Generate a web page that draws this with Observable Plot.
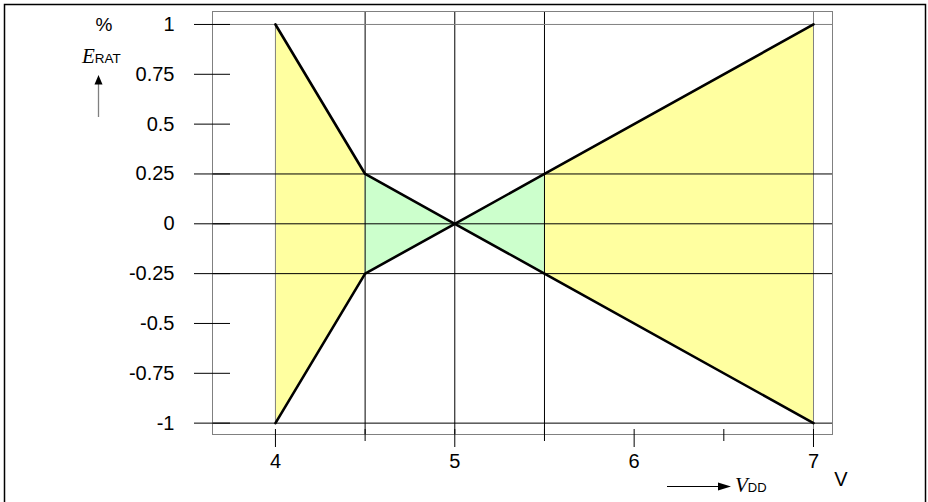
<!DOCTYPE html>
<html><head><meta charset="utf-8">
<script src="https://cdn.jsdelivr.net/npm/d3@7"></script>
<script src="https://cdn.jsdelivr.net/npm/@observablehq/plot@0.6"></script>
<style>body{margin:0;background:#fff} svg{display:block}</style>
</head><body><div id="chart"></div>
<script>
// Supply voltage breakpoints (V) and error envelope (%)
const vdd   = [4, 4.5, 5, 5.5, 7];
const upper = [1, 0.25, 0, 0.25, 1];
const lower = [-1, -0.25, 0, -0.25, -1];
// Shaded zones: [id, kind, from V, to V]
const zones = [["a", "wide", 4, 4.5], ["b", "narrow", 4.5, 5.5], ["c", "wide", 5.5, 7]];
const zoneKinds  = ["wide", "narrow"];
const zoneColors = ["#ffffa0", "#ccffcc"];
// Axis ticks and grid
const yTicks  = [1, 0.75, 0.5, 0.25, 0, -0.25, -0.5, -0.75, -1];
const xMajor  = [4, 5, 6, 7];
const xMinor  = [4.5, 5.5, 6.5];
const xGrid   = [4.5, 5, 5.5];
const yGrid   = [0.25, 0, -0.25, -1];
const yGridTop = [1];
const xEdgeFull = [7];
const xEdgeSeg  = [4];

const pts = vdd.map((x, i) => ({x, hi: upper[i], lo: lower[i]}));
const areaRows = zones.flatMap(([id, kind, a, b]) =>
  pts.filter(p => p.x >= a && p.x <= b).map(p => ({...p, id, kind})));

const gray = "#808080";
const plot = Plot.plot({
  width: 928, height: 502,
  marginLeft: 212, marginRight: 96, marginTop: 11, marginBottom: 68,
  style: {fontFamily: "'Liberation Sans', Arial, sans-serif", fontSize: "20px", background: "#fff", color: "#000"},
  x: {domain: [3.649, 7.106]},
  y: {domain: [-1.057, 1.065]},
  color: {domain: zoneKinds, range: zoneColors},
  marks: [
    Plot.areaY(areaRows, {x: "x", y1: "lo", y2: "hi", z: "id", fill: "kind"}),
    Plot.ruleX(xEdgeSeg, {y1: -1, y2: 1, stroke: gray}),
    Plot.ruleX(xEdgeFull, {stroke: gray}),
    Plot.ruleX(xGrid, {stroke: "#000"}),
    Plot.ruleY(yGrid, {stroke: "#000"}),
    Plot.ruleY(yGridTop, {stroke: gray}),
    Plot.line(pts, {x: "x", y: "hi", stroke: "#000", strokeWidth: 2.6}),
    Plot.line(pts, {x: "x", y: "lo", stroke: "#000", strokeWidth: 2.6}),
    Plot.frame({stroke: gray}),
    Plot.axisY({ticks: yTicks, tickSize: 36, dx: 18, tickPadding: 20, tickFormat: d => String(d), label: null}),
    Plot.axisX({ticks: xMajor, tickSize: 18, dy: -5, tickPadding: 6, tickFormat: d => String(d), label: null}),
    Plot.axisX({ticks: xMinor, tickSize: 12, dy: -5, tickFormat: () => "", label: null})
  ]
});
document.getElementById("chart").appendChild(plot);

const svg = d3.select(plot);
svg.append("rect").attr("x", 4.5).attr("y", 4.5).attr("width", 921).attr("height", 520)
  .attr("fill", "none").attr("stroke", "#000").attr("stroke-width", 1.5);

const sans = "'Liberation Sans', Arial, sans-serif";
const serif = "'Liberation Serif', 'Times New Roman', serif";
function txt(sel, family, size, italic) {
  return sel.style("font-family", family).style("font-size", size + "px")
    .style("font-style", italic ? "italic" : "normal");
}
txt(svg.append("text").attr("x", 104).attr("y", 31).attr("text-anchor", "middle"), sans, 19).text("%");
const eLab = svg.append("text").attr("x", 82).attr("y", 63).attr("text-anchor", "start");
txt(eLab.append("tspan"), serif, 21, true).text("E");
txt(eLab.append("tspan"), sans, 13.5).text("RAT");
svg.append("line").attr("x1", 98.5).attr("x2", 98.5).attr("y1", 117).attr("y2", 83)
  .attr("stroke", gray).attr("stroke-width", 1.3);
svg.append("path").attr("d", "M94.5,84.5L102.5,84.5L98.5,75Z").attr("fill", "#000");

txt(svg.append("text").attr("x", 841).attr("y", 486).attr("text-anchor", "middle"), sans, 20).text("V");
svg.append("line").attr("x1", 667).attr("x2", 720).attr("y1", 486.5).attr("y2", 486.5)
  .attr("stroke", "#000").attr("stroke-width", 1.2);
svg.append("path").attr("d", "M718,482.5L718,490.5L731,486.5Z").attr("fill", "#000");
const vLab = svg.append("text").attr("x", 735).attr("y", 492).attr("text-anchor", "start");
txt(vLab.append("tspan"), serif, 21, true).text("V");
txt(vLab.append("tspan"), sans, 13).text("DD");
</script></body></html>
